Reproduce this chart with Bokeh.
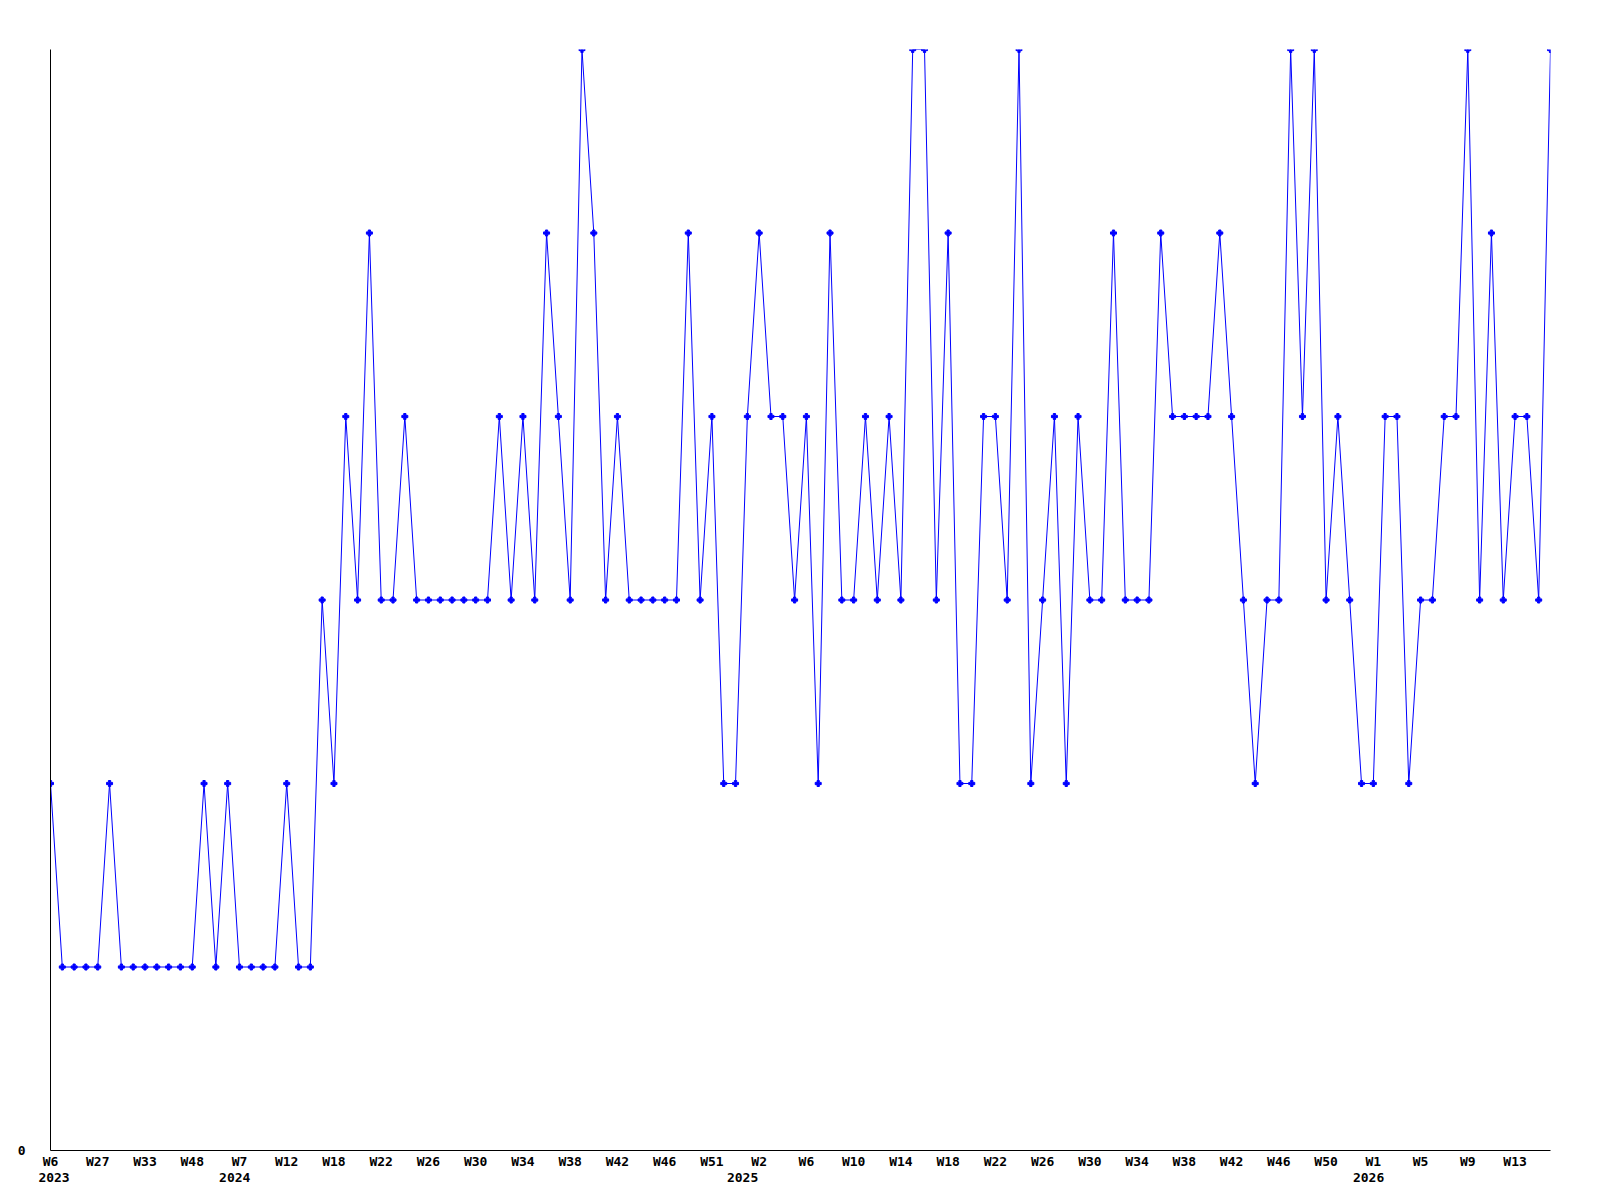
from bokeh.plotting import figure
from bokeh.models import Range1d, FixedTicker, LinearAxis
from bokeh.embed import file_html
from bokeh.resources import INLINE

values = [2, 1, 1, 1, 1, 2, 1, 1, 1, 1, 1, 1, 1, 2, 1, 2,
          1, 1, 1, 1, 2, 1, 1, 3, 2, 4, 3, 5, 3, 3, 4, 3,
          3, 3, 3, 3, 3, 3, 4, 3, 4, 3, 5, 4, 3, 6, 5, 3,
          4, 3, 3, 3, 3, 3, 5, 3, 4, 2, 2, 4, 5, 4, 4, 3,
          4, 2, 5, 3, 3, 4, 3, 4, 3, 6, 6, 3, 5, 2, 2, 4,
          4, 3, 6, 2, 3, 4, 2, 4, 3, 3, 5, 3, 3, 3, 5, 4,
          4, 4, 4, 5, 4, 3, 2, 3, 3, 6, 4, 6, 3, 4, 3, 2,
          2, 4, 4, 2, 3, 3, 4, 4, 6, 3, 5, 3, 4, 4, 3, 6]
x_index = list(range(len(values)))

week_tick_index = [0, 4, 8, 12, 16, 20, 24, 28, 32, 36, 40, 44, 48, 52, 56, 60,
                   64, 68, 72, 76, 80, 84, 88, 92, 96, 100, 104, 108, 112, 116, 120, 124]
week_tick_labels = ["W6", "W27", "W33", "W48", "W7", "W12", "W18", "W22", "W26", "W30",
                    "W34", "W38", "W42", "W46", "W51", "W2", "W6", "W10", "W14", "W18",
                    "W22", "W26", "W30", "W34", "W38", "W42", "W46", "W50", "W1", "W5",
                    "W9", "W13"]
year_labels = ["2023", "2024", "2025", "2026"]
year_index = [0.3, 15.6, 58.6, 111.6]

FONT = "DejaVu Sans Mono"
FSIZE = "13px"

p = figure(width=1592, height=1192, output_backend="svg", toolbar_location=None,
           x_range=Range1d(0, 127), y_range=Range1d(0, 6),
           min_border_left=50, min_border_right=42, min_border_top=49, min_border_bottom=42)
p.outline_line_color = None
p.xgrid.visible = False
p.ygrid.visible = False
p.background_fill_color = "white"

p.line(x_index, values, line_color="#0000ff", line_width=1)
p.scatter(x_index, values, marker="plus", size=6, fill_color="#0000ff", line_color="#0000ff")


def style_axis(ax, standoff):
    ax.major_tick_line_color = None
    ax.minor_tick_line_color = None
    ax.major_tick_out = 0
    ax.major_tick_in = 0
    ax.major_label_standoff = standoff
    ax.major_label_text_font = FONT
    ax.major_label_text_font_style = "bold"
    ax.major_label_text_font_size = FSIZE
    ax.major_label_text_color = "black"


xa = p.xaxis[0]
xa.ticker = FixedTicker(ticks=week_tick_index)
xa.major_label_overrides = {t: l for t, l in zip(week_tick_index, week_tick_labels)}
xa.axis_line_color = "black"
style_axis(xa, 3)

ya = p.yaxis[0]
ya.ticker = FixedTicker(ticks=[0])
ya.axis_line_color = "black"
style_axis(ya, 25)

year_axis = LinearAxis(ticker=FixedTicker(ticks=year_index),
                       major_label_overrides={t: l for t, l in zip(year_index, year_labels)})
year_axis.axis_line_color = None
style_axis(year_axis, 1)
p.add_layout(year_axis, "below")

open("out.html", "w").write(file_html(p, INLINE))
